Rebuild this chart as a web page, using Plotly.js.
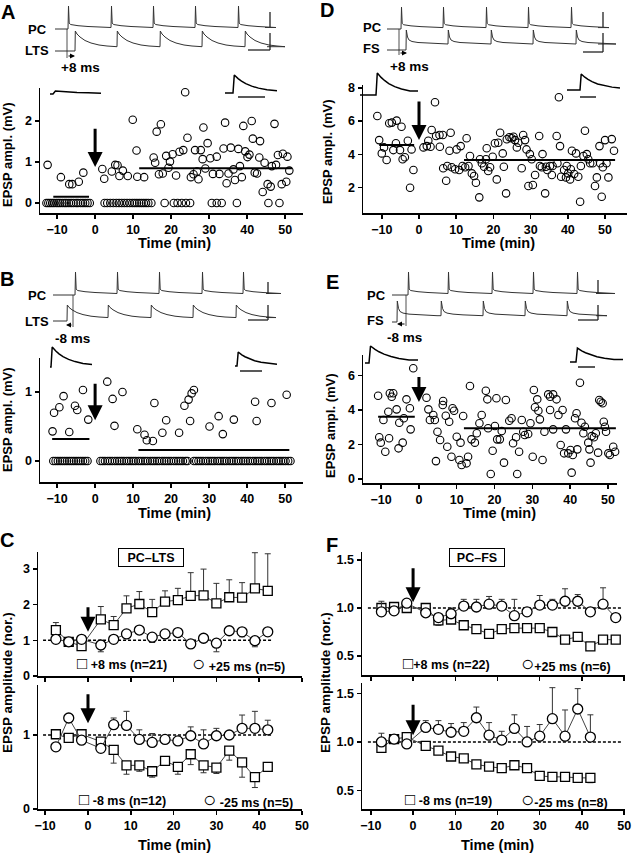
<!DOCTYPE html>
<html><head><meta charset="utf-8">
<script src="https://cdn.plot.ly/plotly-3.0.1.min.js"></script>
<style>html,body{margin:0;padding:0;background:#fff;}#chart{width:634px;height:853px;}</style>
</head><body><div id="chart"></div>
<script>
// ---------------- DATA ----------------
// Panel A: PC -> LTS, +8 ms pairing; EPSP amplitude (mV) vs time (min)
const aTime = [-12.5,-9.0,-6.8,-6.0,-4.3,-3.1,1.9,2.4,4.4,5.3,5.9,6.4,7.3,8.6,9.9,10.9,11.1,12.9,15.4,15.8,16.2,17.3,16.8,17.8,18.7,19.3,19.7,20.4,21.3,22.2,23.2,23.7,24.3,25.2,25.9,26.3,27.2,26.8,27.8,28.5,28.3,29.0,29.6,30.3,31.0,32.0,32.7,33.8,34.2,35.1,34.6,35.7,36.4,36.8,37.7,38.1,38.6,39.0,39.5,40.1,40.6,41.2,41.5,42.0,42.6,43.4,43.2,44.6,44.1,45.4,46.2,46.5,47.2,47.6,48.1,49.4,49.1,50.3,50.6,51.1];
const aAmp = [0.93,0.63,0.46,0.46,0.52,0.74,0.83,0.59,0.77,0.93,0.92,0.66,0.79,0.66,2.03,1.28,0.64,0.63,1.11,0.98,1.74,1.92,0.70,0.72,1.15,0.86,1.01,1.19,0.67,1.25,1.29,2.70,1.59,0.63,0.70,1.29,0.58,0.77,1.29,1.84,1.07,0.84,1.46,1.09,0.71,1.13,0.71,1.33,1.96,0.72,0.48,1.35,0.82,0.56,1.32,0.90,0.63,1.88,1.26,1.12,1.18,2.00,1.57,0.74,0.72,1.51,1.11,0.98,0.27,0.46,0.40,0.90,1.93,0.93,1.17,1.20,0.46,0.52,1.13,0.79];
const aFailTime = [-12.8,-12.3,-11.8,-11.3,-10.8,-10.2,-9.7,-9.2,-8.6,-8.0,-7.5,-6.9,-6.3,-5.7,-5.0,-4.5,-3.8,-3.2,-2.6,-2.0,-1.4,
  2.5,3.2,4.0,4.8,5.6,6.3,7.0,7.7,8.4,9.1,9.8,10.4,11.0,11.6,12.2,12.8,13.4,14.0,14.8,
  18.3,20.7,21.7,22.8,23.9,25.0,30.7,32.0,33.3,37.3,45.6,48.5];
const aFailAmp = [0,0,0,0,0,0,0,0,0,0, 0,0,0,0,0,0,0,0,0,0, 0,0,0,0,0,0,0,0,0,0, 0,0,0,0,0,0,0,0,0,0, 0,0,0,0,0,0,0,0,0,0, 0,0];
const aMeanStart = [-11.0, 11.6];
const aMeanEnd = [-1.6, 51.8];
const aMeanLevel = [0.15, 0.85];

// Panel B: PC -> LTS, -8 ms pairing
const bTime = [-11.2,-10.8,-9.4,-8.3,-6.8,-5.3,-4.7,-3.2,-1.8,3.2,4.6,5.1,7.2,11.1,13.0,13.6,15.2,15.6,17.7,18.7,22.1,23.5,24.6,25.4,26.0,25.0,30.1,32.5,33.6,36.5,42.1,42.5,46.4,50.4];
const bAmp = [0.43,0.70,0.78,0.94,0.42,0.80,0.74,1.03,0.60,1.15,0.90,0.51,1.00,0.46,0.38,0.30,0.29,0.84,0.41,0.59,0.41,0.80,0.89,0.98,1.03,0.58,0.50,0.65,0.39,0.60,0.86,0.58,0.84,0.96];
const bFailTime = [-11.0,-10.4,-9.8,-9.2,-8.6,-8.0,-7.4,-6.8,-6.2,-5.6,-5.0,-4.4,-3.8,-3.2,-2.6,-2.0,
  1.4,2.0,2.6,3.3,3.9,4.5,5.2,5.8,6.4,7.0,7.6,8.3,8.9,9.5,10.1,10.7,11.4,12.0,12.6,13.2,13.8,14.5,15.1,15.7,16.3,16.9,17.6,18.2,18.8,19.4,20.0,20.7,21.3,21.9,22.5,23.1,23.8,24.3,
  26.0,26.6,27.2,27.8,28.4,29.1,29.7,30.3,30.9,31.5,32.2,32.8,33.4,34.0,34.6,35.3,35.9,36.5,37.1,37.7,38.4,39.0,39.6,40.2,40.8,41.5,42.1,42.7,43.3,43.9,44.6,45.2,45.8,46.4,47.0,47.7,48.3,48.9,49.5,50.1,50.8,51.4];
const bFailAmp = [0,0,0,0,0,0,0,0,0,0, 0,0,0,0,0,0,0,0,0,0, 0,0,0,0,0,0,0,0,0,0, 0,0,0,0,0,0,0,0,0,0, 0,0,0,0,0,0,0,0,0,0,
  0,0,0,0,0,0,0,0,0,0, 0,0,0,0,0,0,0,0,0,0, 0,0,0,0,0,0,0,0,0,0, 0,0,0,0,0,0,0,0,0,0, 0,0,0,0,0,0];
const bMeanStart = [-11.3, 11.4];
const bMeanEnd = [-1.5, 51.1];
const bMeanLevel = [0.32, 0.16];

// Panel C: normalized PC -> LTS
const cTime = [-7.5,-4.5,-1.5,3,6,9,12,15,18,21,24,27,30,33,36,39,42];
const cPlus8 = [1.29,0.96,0.84,1.59,1.43,1.90,2.02,1.79,2.09,2.13,2.25,2.26,2.04,2.21,2.20,2.46,2.39];
const cPlus8Err = [0.21,0.05,0.05,0.36,0.24,0.35,0.35,0.36,0.30,0.33,0.65,0.74,0.56,0.49,0.42,1.00,1.04];
const cPlus25 = [1.03,0.96,1.03,0.87,1.03,1.18,1.29,1.09,1.18,1.22,0.90,1.06,0.92,1.27,1.24,0.99,1.24];
const cPlus25Err = [0.05,0.04,0.04,0.19,0.05,0.05,0.05,0.15,0.05,0.05,0.04,0.08,0.24,0.04,0.14,0.17,0.05];
const cMinus8 = [1.01,0.96,1.01,0.91,0.80,0.59,0.59,0.51,0.65,0.57,0.74,0.59,0.56,0.79,0.63,0.43,0.57];
const cMinus8Err = [0.04,0.03,0.03,0.10,0.18,0.12,0.08,0.08,0.05,0.10,0.14,0.10,0.08,0.13,0.20,0.14,0.04];
const cMinus25 = [0.84,1.23,0.93,0.82,1.14,1.13,0.94,0.90,0.94,0.92,0.99,0.88,0.99,1.00,1.09,1.09,1.07];
const cMinus25Err = [0.03,0.03,0.03,0.03,0.09,0.19,0.13,0.12,0.04,0.04,0.12,0.19,0.10,0.03,0.18,0.23,0.13];

// Panel D: PC -> FS, +8 ms
const dTime = [-11.2,-10.7,-10.0,-9.4,-8.7,-8.0,-7.3,-6.9,-6.0,-6.2,
 -5.1,-4.7,-4.4,-3.8,-3.0,-2.0,-1.5,-2.4,1.2,2.1,
 2.5,3.1,3.4,4.3,4.6,5.5,5.6,6.4,6.5,7.3,
 7.6,8.2,8.5,8.8,9.7,10.1,10.8,11.2,11.7,12.4,
 12.8,13.3,13.7,14.2,14.8,15.3,16.2,16.4,16.9,17.5,
 18.0,18.2,18.6,19.1,19.8,20.4,20.9,21.3,21.8,22.5,
 22.8,23.4,23.6,24.3,24.9,25.4,25.8,26.3,26.7,27.6,
 28.0,28.5,28.9,29.4,29.8,30.6,30.3,31.2,32.3,32.5,
 33.0,33.2,33.9,34.1,34.5,35.2,35.7,35.9,37.0,37.2,
 37.6,37.9,38.2,39.0,39.5,39.7,40.1,40.6,40.8,41.1,
 41.7,42.2,42.8,43.3,43.5,44.2,44.6,45.1,45.5,46.0,
 46.7,47.3,47.8,48.5,48.7,49.1,49.4,50.0,50.4,50.9,
 51.8,52.4];
const dAmp = [6.31,4.86,4.06,4.42,3.66,5.87,5.91,4.26,6.03,4.67,
 4.26,5.66,3.71,3.83,4.82,4.30,3.06,2.00,4.42,4.50,
 4.82,4.46,5.47,7.13,5.11,5.17,4.46,5.17,3.17,2.42,
 3.30,4.22,5.30,3.23,3.11,4.30,3.06,4.50,3.30,3.23,
 4.97,3.30,3.90,2.86,2.70,2.30,1.42,3.71,3.47,3.26,
 3.71,4.37,3.00,3.23,3.86,4.67,2.50,4.70,5.30,4.06,
 3.26,1.66,4.91,5.03,4.97,5.06,4.86,4.42,4.70,3.17,
 5.17,4.86,4.30,2.10,4.02,2.16,3.71,2.76,5.11,3.30,
 3.23,4.02,1.66,3.26,3.06,3.30,2.76,3.30,5.11,3.47,
 7.43,4.50,2.66,3.06,2.62,3.30,2.86,2.50,3.11,4.22,
 2.82,4.06,2.66,1.16,3.30,3.90,5.42,4.02,3.71,3.47,
 3.47,2.10,2.62,4.50,3.47,1.46,3.23,4.86,3.47,2.62,
 4.92,4.22];
const dMeanStart = [-10.7, 12.1];
const dMeanEnd = [-1.3, 52.7];
const dMeanLevel = [4.56, 3.66];

// Panel E: PC -> FS, -8 ms
const eTime = [-1.5,-10.8,-7.7,-6.8,-7.2,-3.3,2.0,6.4,13.5,17.7,18.1,20.5,23.0,30.4,31.3,34.2,34.7,35.5,36.4,42.6,47.7,48.1,
 -10.5,-10.1,-9.4,-8.9,-8.1,-7.9,-5.9,-5.2,-5.4,-4.3,
 -4.0,-2.2,-2.4,2.5,2.9,3.8,4.2,4.9,5.6,4.5,
 6.3,7.1,7.5,8.0,8.9,9.3,8.6,10.0,10.7,11.0,
 11.3,11.7,12.6,13.0,13.9,15.3,14.8,16.0,16.6,18.3,
 19.0,19.5,20.1,20.7,21.4,21.9,22.5,23.9,24.5,24.9,
 25.7,26.0,26.5,27.2,27.6,28.0,28.9,29.5,30.1,30.7,
 31.6,32.0,32.7,33.2,34.7,35.5,36.9,37.5,38.0,38.4,
 38.9,39.5,40.1,40.4,40.7,41.3,41.7,41.9,43.0,43.5,
 43.9,44.8,45.1,45.4,45.7,46.3,46.8,47.4,48.6,48.9,
 49.2,49.5,50.1,50.5,51.4,51.9];
const eAmp = [6.42,4.83,4.97,4.97,4.77,4.62,4.71,4.52,5.39,5.12,4.62,4.68,4.58,5.16,4.62,4.91,4.77,4.91,4.62,5.58,4.58,4.48,
 2.42,2.11,3.42,1.58,3.90,2.36,4.04,3.26,1.78,2.11,
 3.52,2.88,4.10,4.04,3.42,3.71,3.42,2.74,2.26,1.04,
 4.29,3.67,1.87,3.32,4.10,3.96,1.29,2.45,1.10,2.11,
 0.81,3.65,0.91,1.29,2.30,2.65,2.11,3.23,3.71,2.94,
 0.29,1.64,3.07,2.30,2.30,2.78,0.95,3.38,3.52,2.07,
 2.42,0.29,1.58,3.42,2.74,2.55,2.61,3.23,1.29,4.16,
 3.96,3.46,1.10,2.74,4.00,2.88,3.71,1.97,4.00,1.49,
 2.88,1.49,1.68,0.37,1.39,3.52,3.81,1.72,3.26,2.65,
 3.03,2.11,1.72,0.95,2.49,2.42,2.65,1.53,4.39,3.32,
 3.03,2.74,1.49,1.39,1.87,1.58];
const eMeanStart = [-10.8, 11.9];
const eMeanEnd = [-1.1, 52.1];
const eMeanLevel = [3.61, 2.94];

// Panel F: normalized PC -> FS
const fTime = [-7.5,-4.5,-1.5,3,6,9,12,15,18,21,24,27,30,33,36,39,42,45,48];
const fPlus8 = [1.00,1.01,1.00,1.00,0.87,0.88,0.82,0.78,0.73,0.78,0.79,0.79,0.79,0.75,0.67,0.70,0.60,0.67,0.67];
const fPlus8Err = [0.02,0.02,0.02,0.02,0.05,0.03,0.02,0.02,0.02,0.02,0.02,0.02,0.02,0.02,0.02,0.02,0.04,0.02,0.02];
const fPlus25 = [0.96,0.97,1.05,0.95,0.90,0.94,1.02,1.01,1.04,1.02,0.92,0.96,1.03,1.03,1.07,1.07,0.96,1.04,0.90];
const fPlus25Err = [0.11,0.03,0.03,0.03,0.03,0.06,0.07,0.08,0.08,0.07,0.17,0.03,0.10,0.06,0.13,0.07,0.04,0.17,0.03];
const fTimeB = [-7.5,-4.5,-1.5,3,6,9,12,15,18,21,24,27,30,33,36,39,42];
const fMinus8 = [0.94,1.03,1.05,0.96,0.91,0.85,0.83,0.77,0.745,0.73,0.76,0.73,0.65,0.64,0.64,0.63,0.63];
const fMinus8Err = [0.02,0.02,0.02,0.02,0.03,0.02,0.03,0.02,0.02,0.02,0.02,0.02,0.02,0.02,0.02,0.02,0.05];
const fMinus25 = [1.00,1.03,0.98,1.15,1.13,1.10,1.11,1.25,1.07,1.02,1.14,1.00,1.06,1.24,1.06,1.34,1.05];
const fMinus25Err = [0.09,0.02,0.02,0.07,0.09,0.09,0.09,0.11,0.13,0.09,0.14,0.16,0.12,0.32,0.27,0.21,0.23];

const timeTicks = [-10,0,10,20,30,40,50];

// Illustration waveform templates (example recordings, schematic)
const pcTplT = [0.5,1.2,2.5,5,10,20,30,38];
const pcTplV = [23,6,4.5,4,3.3,2.5,1.8,1.5];
const ltsTplT = [0.3,2,5,10,16,24,32,40];
const ltsTplV = [20,17,14,10.5,8,6,5,4.3];
const fsTplT = [0.3,1.5,3,6,12,22,32,40];
const fsTplV = [20,13,10,8.5,7.5,6.8,6.3,6];
const epspTplT = [0,1.5,3,6,10,15,22,30,40,50];
const epspTplV = [0,1,0.92,0.8,0.66,0.52,0.38,0.27,0.18,0.12];

// ---------------- LAYOUT HELPERS ----------------
const W = 634, H = 853;
const FONT = 'Liberation Sans, Arial, Helvetica, sans-serif';
const bold = s => ({family: FONT, size: s, color: '#000', weight: 'bold'});
const xdom = (a, b) => [a / W, b / W];
const ydom = (top, bottom) => [1 - bottom / H, 1 - top / H];

function axis(dom, range, extra) {
  return Object.assign({domain: dom, range: range, showline: true, linecolor: '#000', linewidth: 1.5,
    ticks: 'outside', ticklen: 4, tickwidth: 1.5, tickcolor: '#000', showgrid: false, zeroline: false,
    tickfont: bold(12.5), fixedrange: true}, extra);
}

const layout = {
  width: W, height: H, margin: {l: 0, r: 0, t: 0, b: 0},
  paper_bgcolor: '#fff', plot_bgcolor: 'rgba(0,0,0,0)', showlegend: false,
  xaxis: axis(xdom(40, 303), [-14.5, 54.7], {anchor: 'y', tickvals: timeTicks}),
  yaxis: axis(ydom(88, 213), [-0.244, 2.805], {anchor: 'x', tickvals: [0, 1, 2]}),
  xaxis2: axis(xdom(40, 303), [-14.5, 54.7], {anchor: 'y2', tickvals: timeTicks}),
  yaxis2: axis(ydom(358, 482), [-0.304, 1.493], {anchor: 'x2', tickvals: [0, 1]}),
  xaxis3: axis(xdom(38, 302), [-11.68, 50], {anchor: 'y3', tickvals: timeTicks, showticklabels: false}),
  yaxis3: axis(ydom(552, 676), [0, 3.48], {anchor: 'x3', tickvals: [0, 1, 2, 3]}),
  xaxis4: axis(xdom(38, 302), [-11.68, 50], {anchor: 'y4', tickvals: timeTicks}),
  yaxis4: axis(ydom(685, 809), [0, 1.676], {anchor: 'x4', tickvals: [0, 1]}),
  xaxis5: axis(xdom(363, 627), [-15.05, 55.9], {anchor: 'y5', tickvals: timeTicks}),
  yaxis5: axis(ydom(85, 213), [0.48, 8.17], {anchor: 'x5', tickvals: [2, 4, 6, 8]}),
  xaxis6: axis(xdom(363, 617), [-14.8, 52.4], {anchor: 'y6', tickvals: timeTicks}),
  yaxis6: axis(ydom(355, 483), [-0.23, 7.19], {anchor: 'x6', tickvals: [0, 2, 4, 6]}),
  xaxis7: axis(xdom(362, 625), [-12.1, 50.2], {anchor: 'y7', tickvals: timeTicks, showticklabels: false}),
  yaxis7: axis(ydom(552, 675), [0.302, 1.583], {anchor: 'x7', tickvals: [0.5, 1, 1.5], tickformat: '.1f'}),
  xaxis8: axis(xdom(362, 625), [-12.1, 50.2], {anchor: 'y8', tickvals: timeTicks}),
  yaxis8: axis(ydom(683, 809), [0.309, 1.608], {anchor: 'x8', tickvals: [0.5, 1, 1.5], tickformat: '.1f'}),
  xaxis9: {domain: [0, 1], range: [0, W], visible: false, anchor: 'y9', fixedrange: true},
  yaxis9: {domain: [0, 1], range: [H, 0], visible: false, anchor: 'x9', fixedrange: true},
  annotations: [], shapes: []
};

const traces = [];
const circ = {symbol: 'circle-open', size: 7.5, color: '#000', line: {width: 1.1, color: '#000'}};

function scatterPanel(xa, ya, t, v) {
  traces.push({x: t, y: v, xaxis: xa, yaxis: ya, mode: 'markers', marker: circ, cliponaxis: false, hoverinfo: 'skip'});
}
function meanLines(xa, ya, s, e, lv) {
  for (let i = 0; i < s.length; i++) {
    traces.push({x: [s[i], e[i]], y: [lv[i], lv[i]], xaxis: xa, yaxis: ya, mode: 'lines',
      line: {color: '#000', width: 2}, hoverinfo: 'skip'});
  }
}
function summary(xa, ya, t, v, err, up, sym, size) {
  const zero = err.map(() => 0);
  traces.push({x: t, y: v, xaxis: xa, yaxis: ya, mode: 'lines+markers', cliponaxis: false, hoverinfo: 'skip',
    line: {color: '#444', width: 1},
    marker: {symbol: sym, size: size, color: '#fff', line: {color: '#000', width: 1.3}},
    error_y: {type: 'data', symmetric: false, array: up ? err : zero, arrayminus: up ? zero : err,
      color: '#333', thickness: 1, width: 3}});
}

scatterPanel('x', 'y', aFailTime, aFailAmp);
scatterPanel('x', 'y', aTime, aAmp);
meanLines('x', 'y', aMeanStart, aMeanEnd, aMeanLevel);
scatterPanel('x2', 'y2', bFailTime, bFailAmp);
scatterPanel('x2', 'y2', bTime, bAmp);
meanLines('x2', 'y2', bMeanStart, bMeanEnd, bMeanLevel);
scatterPanel('x5', 'y5', dTime, dAmp);
meanLines('x5', 'y5', dMeanStart, dMeanEnd, dMeanLevel);
scatterPanel('x6', 'y6', eTime, eAmp);
meanLines('x6', 'y6', eMeanStart, eMeanEnd, eMeanLevel);

// reference dashed lines at 1.0
[['x3','y3',-10.5,43],['x4','y4',-10.5,43],['x7','y7',-10.7,49.5],['x8','y8',-10.7,49.5]].forEach(r => {
  layout.shapes.push({type: 'line', xref: r[0], yref: r[1], x0: r[2], x1: r[3], y0: 1, y1: 1,
    line: {color: '#000', width: 1.5, dash: '3px,2px'}, layer: 'below'});
});

summary('x3', 'y3', cTime, cPlus8, cPlus8Err, true, 'square', 9);
summary('x3', 'y3', cTime, cPlus25, cPlus25Err, false, 'circle', 10);
summary('x4', 'y4', cTime, cMinus8, cMinus8Err, false, 'square', 9);
summary('x4', 'y4', cTime, cMinus25, cMinus25Err, true, 'circle', 10);
summary('x7', 'y7', fTime, fPlus8, fPlus8Err, false, 'square', 9);
summary('x7', 'y7', fTime, fPlus25, fPlus25Err, true, 'circle', 10);
summary('x8', 'y8', fTimeB, fMinus8, fMinus8Err, false, 'square', 9);
summary('x8', 'y8', fTimeB, fMinus25, fMinus25Err, true, 'circle', 10);

// ---------------- ILLUSTRATION TRACES (page pixel frame) ----------------
function train(x0, x1, base, times, tt, vv, amp) {
  const xs = [x0], ys = [base]; let last = 0;
  times.forEach(s => {
    xs.push(s); ys.push(base - last * amp);
    for (let i = 0; i < tt.length; i++) { xs.push(s + tt[i]); ys.push(base - vv[i] * amp); }
    last = vv[vv.length - 1];
  });
  xs.push(x1); ys.push(base - last * amp);
  return {xs, ys};
}
function epsp(x0, onset, x1, base, amp, dur) {
  const xs = [x0, onset], ys = [base, base]; let lastV = 0;
  for (let i = 0; i < epspTplT.length; i++) {
    const x = onset + epspTplT[i] * dur; if (x > x1) break;
    xs.push(x); ys.push(base - epspTplV[i] * amp); lastV = epspTplV[i];
  }
  xs.push(x1); ys.push(base - lastV * amp);
  return {xs, ys};
}
function addLine(o, w, c) {
  traces.push({x: o.xs, y: o.ys, xaxis: 'x9', yaxis: 'y9', mode: 'lines', line: {color: c, width: w}, hoverinfo: 'skip'});
}
// trains (positions in page pixels)
addLine(train(55, 265, 29, [68,111,153,195,238], pcTplT, pcTplV, 1), 1, '#333');
addLine(train(55, 267, 51, [75,117,160,202,245], ltsTplT, ltsTplV, 1), 1, '#333');
addLine(train(53, 266, 295, [75,117,159,202,243], pcTplT, pcTplV, 1), 1, '#333');
addLine(train(53, 266, 321, [67,108,151,193,236], ltsTplT, ltsTplV, 0.8), 1, '#333');
addLine(train(387, 598, 29, [401,443,486,528,571], pcTplT, pcTplV, 0.95), 1, '#333');
addLine(train(387, 598, 50, [406,448,491,533,576], fsTplT, fsTplV, 1), 1, '#333');
addLine(train(392, 596, 295, [408,448,492,533,577], pcTplT, pcTplV, 1), 1, '#333');
addLine(train(392, 596, 322, [397,441,483,525,567], fsTplT, fsTplV, 1.05), 1, '#333');
// EPSP insets
addLine(epsp(50, 53, 101, 94, 3, 1.6), 1.5, '#000');
addLine(epsp(225, 233, 277, 93, 18, 0.85), 1.5, '#000');
addLine(epsp(50, 51, 92, 367, 20, 0.8), 1.5, '#000');
addLine(epsp(235, 237, 277, 366, 14, 0.8), 1.5, '#000');
addLine(epsp(360, 376, 418, 95, 22, 0.85), 1.5, '#000');
addLine(epsp(567, 580, 620, 90, 16, 0.8), 1.5, '#000');
addLine(epsp(365, 369, 418, 363, 17, 1.0), 1.5, '#000');
addLine(epsp(570, 576, 623, 362, 14, 0.95), 1.5, '#000');

// scale bars, timing markers
const segs = [
  [270,12,270,27,1.3],[270,33,270,50,1.3],[248,50,270,50,1.3],[238,97,265,97,1.5],
  [268,282,268,294,1.3],[268,305,268,320,1.3],[248,320,268,320,1.3],[240,371,262,371,1.5],
  [603,12,603,27,1.3],[603,33,603,52,1.3],[583,52,603,52,1.3],[580,97,596,97,1.5],
  [598,280,598,293,1.3],[598,305,598,320,1.3],[578,320,598,320,1.3],[578,367,595,367,1.5],
  [67,29,67,58,0.8],[73,295,73,327,0.8],[399,29,399,55,0.8],[406,295,406,326,0.8]
];
segs.forEach(s => layout.shapes.push({type: 'line', xref: 'paper', yref: 'paper',
  x0: s[0] / W, x1: s[2] / W, y0: 1 - s[1] / H, y1: 1 - s[3] / H, line: {color: '#222', width: s[4]}}));

// ---------------- TEXT ----------------
const ann = layout.annotations;
function txt(x, y, text, size, extra) {
  ann.push(Object.assign({xref: 'paper', yref: 'paper', x: x / W, y: 1 - y / H, text: text, showarrow: false,
    xanchor: 'center', yanchor: 'middle', font: bold(size)}, extra || {}));
}
txt(8, 12, 'A', 20); txt(7, 279, 'B', 20); txt(7, 540, 'C', 20);
txt(327, 10, 'D', 20); txt(333, 282, 'E', 20); txt(332, 545, 'F', 20);

txt(37, 29, 'PC', 13); txt(37, 51, 'LTS', 13); txt(80, 68, '+8 ms', 13.5);
txt(37, 295, 'PC', 13); txt(37, 321, 'LTS', 13); txt(72, 338, '-8 ms', 13.5);
txt(372, 27, 'PC', 13); txt(371, 48, 'FS', 13); txt(409, 66, '+8 ms', 13.5);
txt(376, 295, 'PC', 13); txt(375, 320, 'FS', 13); txt(404, 337, '-8 ms', 13.5);

[[174,243],[174,513],[174,845],[498,243],[499,513],[497,845]].forEach(p => txt(p[0], p[1], 'Time (min)', 14.5));
[[8,155],[8,420],[327,152],[330,426]].forEach(p => txt(p[0], p[1], 'EPSP ampl. (mV)', 13, {textangle: -90}));
[[7,683],[325,683]].forEach(p => txt(p[0], p[1], 'EPSP amplitude (nor.)', 13.5, {textangle: -90}));

txt(151, 557, 'PC–LTS', 12.5, {bordercolor: '#000', borderwidth: 1, borderpad: 2, width: 60, height: 13});
txt(477, 557, 'PC–FS', 12.5, {bordercolor: '#000', borderwidth: 1, borderpad: 2, width: 50, height: 13});

const SQ = '<span style="font-size:17px;font-weight:normal">□</span>';
const CI = '<span style="font-size:22px;font-weight:normal">○</span>';
txt(122, 663, SQ + ' +8 ms (n=21)', 12.5); txt(238, 663, CI + ' +25 ms (n=5)', 12.5);
txt(122, 799, SQ + ' -8 ms (n=12)', 12.5); txt(248, 799, CI + ' -25 ms (n=5)', 12.5);
txt(446, 663, SQ + '+8 ms (n=22)', 12.5); txt(566, 663, CI + '+25 ms (n=6)', 12.5);
txt(448, 799, SQ + ' -8 ms (n=19)', 12.5); txt(564, 799, CI + '-25 ms (n=8)', 12.5);

// big pairing arrows (data coords)
function bigArrow(xa, ya, tip, top) {
  ann.push({xref: xa, yref: ya, axref: xa, ayref: ya, x: 0, y: tip, ax: 0, ay: top, text: '',
    showarrow: true, arrowhead: 2, arrowsize: 1, arrowwidth: 3, arrowcolor: '#000', standoff: 0});
}
bigArrow('x', 'y', 0.88, 1.85);
bigArrow('x2', 'y2', 0.59, 1.14);
bigArrow('x3', 'y3', 1.24, 1.97);
bigArrow('x4', 'y4', 1.16, 1.57);
bigArrow('x5', 'y5', 4.86, 7.27);
bigArrow('x6', 'y6', 4.46, 6.0);
bigArrow('x7', 'y7', 1.06, 1.43);
bigArrow('x8', 'y8', 1.07, 1.40);

// small timing arrows
function smallArrow(tipX, y, tailX) {
  ann.push({xref: 'paper', yref: 'paper', x: tipX / W, y: 1 - y / H, ax: tailX - tipX, ay: 0, text: '',
    showarrow: true, arrowhead: 2, arrowsize: 1, arrowwidth: 1, arrowcolor: '#000', standoff: 0});
}
smallArrow(75, 56, 67); smallArrow(66, 325, 73); smallArrow(407, 53, 399); smallArrow(397, 324, 406);

Plotly.newPlot('chart', traces, layout, {staticPlot: true, displayModeBar: false});
</script></body></html>
